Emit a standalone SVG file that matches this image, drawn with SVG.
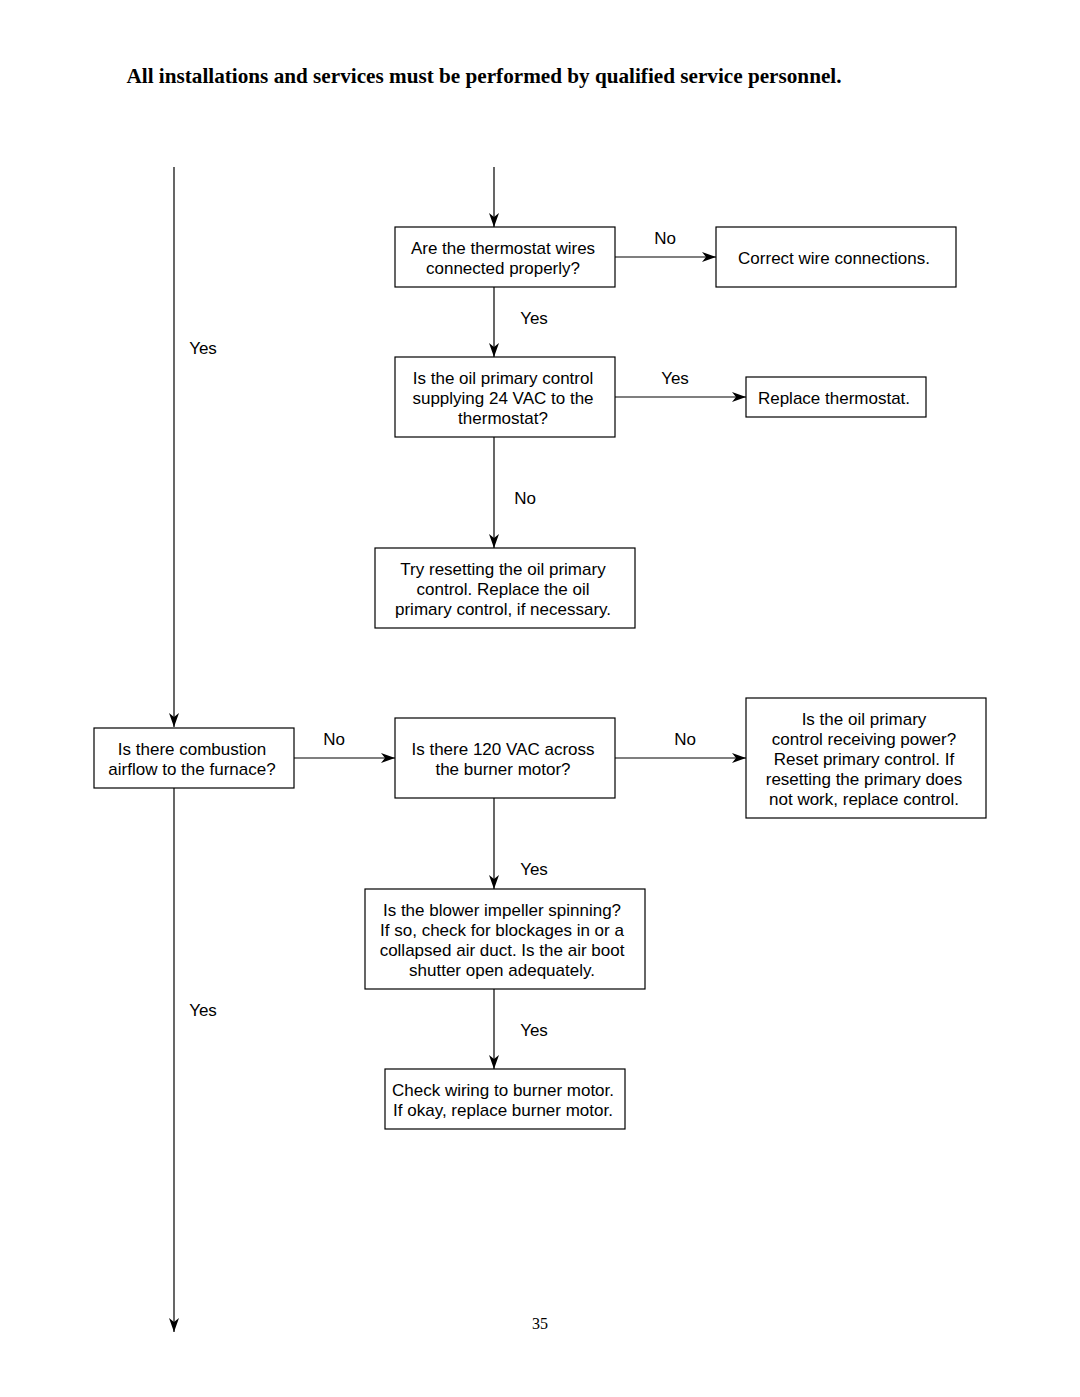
<svg xmlns="http://www.w3.org/2000/svg" width="1080" height="1397" viewBox="0 0 1080 1397">
<style>
.box{fill:#fff;stroke:#000;stroke-width:1.2}
.t{font-family:"Liberation Sans",Arial,sans-serif;font-size:17px;fill:#000;text-anchor:middle}
.c{stroke:#000;stroke-width:1.2;fill:none;marker-end:url(#ah)}
</style>
<defs>
<marker id="ah" markerUnits="userSpaceOnUse" markerWidth="16" markerHeight="12" refX="14" refY="5" orient="auto">
<path d="M0,0 L14,5 L0,10 L4,5 Z" fill="#000"/>
</marker>
</defs>
<rect width="1080" height="1397" fill="#fff"/>
<text x="484" y="83" font-family="Liberation Serif, Times New Roman, serif" font-size="22" font-weight="700" text-anchor="middle" textLength="715" lengthAdjust="spacingAndGlyphs">All installations and services must be performed by qualified service personnel.</text>
<g id="connectors">
<path class="c" d="M174,167 V727"/>
<path class="c" d="M174,788 V1332"/>
<path class="c" d="M494,167 V227"/>
<path class="c" d="M615,257 H716"/>
<path class="c" d="M494,287 V357"/>
<path class="c" d="M615,397 H746"/>
<path class="c" d="M494,437 V548"/>
<path class="c" d="M294,758 H395"/>
<path class="c" d="M615,758 H746"/>
<path class="c" d="M494,798 V889"/>
<path class="c" d="M494,989 V1069"/>
<text class="t" x="665" y="244">No</text>
<text class="t" x="534" y="324">Yes</text>
<text class="t" x="675" y="384">Yes</text>
<text class="t" x="525" y="504">No</text>
<text class="t" x="203" y="354">Yes</text>
<text class="t" x="334" y="745">No</text>
<text class="t" x="685" y="745">No</text>
<text class="t" x="534" y="875">Yes</text>
<text class="t" x="203" y="1016">Yes</text>
<text class="t" x="534" y="1036">Yes</text>
</g>
<g id="n1"><rect class="box" x="395" y="227" width="220" height="60"/>
<text class="t" x="503" y="254">Are the thermostat wires</text><text class="t" x="503" y="274">connected properly?</text></g>
<g id="n2"><rect class="box" x="716" y="227" width="240" height="60"/>
<text class="t" x="834" y="264">Correct wire connections.</text></g>
<g id="n3"><rect class="box" x="395" y="357" width="220" height="80"/>
<text class="t" x="503" y="384">Is the oil primary control</text><text class="t" x="503" y="404">supplying 24 VAC to the</text><text class="t" x="503" y="424">thermostat?</text></g>
<g id="n4"><rect class="box" x="746" y="377" width="180" height="40"/>
<text class="t" x="834" y="404">Replace thermostat.</text></g>
<g id="n5"><rect class="box" x="375" y="548" width="260" height="80"/>
<text class="t" x="503" y="575">Try resetting the oil primary</text><text class="t" x="503" y="595">control. Replace the oil</text><text class="t" x="503" y="615">primary control, if necessary.</text></g>
<g id="n6"><rect class="box" x="94" y="728" width="200" height="60"/>
<text class="t" x="192" y="755">Is there combustion</text><text class="t" x="192" y="775">airflow to the furnace?</text></g>
<g id="n7"><rect class="box" x="395" y="718" width="220" height="80"/>
<text class="t" x="503" y="755">Is there 120 VAC across</text><text class="t" x="503" y="775">the burner motor?</text></g>
<g id="n8"><rect class="box" x="746" y="698" width="240" height="120"/>
<text class="t" x="864" y="725">Is the oil primary</text><text class="t" x="864" y="745">control receiving power?</text><text class="t" x="864" y="765">Reset primary control. If</text><text class="t" x="864" y="785">resetting the primary does</text><text class="t" x="864" y="805">not work, replace control.</text></g>
<g id="n9"><rect class="box" x="365" y="889" width="280" height="100"/>
<text class="t" x="502" y="916">Is the blower impeller spinning?</text><text class="t" x="502" y="936">If so, check for blockages in or a</text><text class="t" x="502" y="956">collapsed air duct. Is the air boot</text><text class="t" x="502" y="976">shutter open adequately.</text></g>
<g id="n10"><rect class="box" x="385" y="1069" width="240" height="60"/>
<text class="t" x="503" y="1096">Check wiring to burner motor.</text><text class="t" x="503" y="1116">If okay, replace burner motor.</text></g>
<text x="540" y="1329" font-family="Liberation Serif, Times New Roman, serif" font-size="16" text-anchor="middle">35</text>
</svg>
